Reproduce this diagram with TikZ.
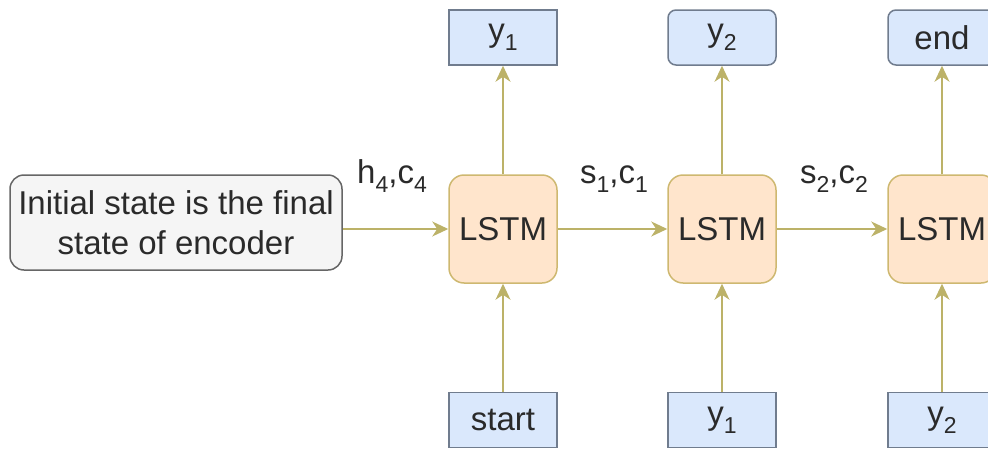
\documentclass[tikz,border=0pt]{standalone}
\usepackage{fontspec}
\setmainfont{Liberation Sans}
\usetikzlibrary{arrows.meta}
\definecolor{flowline}{RGB}{188,178,104}
\definecolor{cellfill}{RGB}{255,229,204}
\definecolor{celldraw}{RGB}{206,184,112}
\definecolor{tokfill}{RGB}{218,232,252}
\definecolor{tokdraw}{RGB}{112,124,142}
\definecolor{notefill}{RGB}{245,245,245}
\definecolor{notedraw}{RGB}{102,102,102}
\definecolor{ink}{RGB}{42,42,42}
% lowered, smaller index
\newcommand\idx[1]{\raisebox{-9pt}{\fontsize{23}{23}\selectfont #1}}
\tikzset{
  every node/.style={font=\fontsize{33}{40}\selectfont, text=ink},
  cell/.style={draw=celldraw, fill=cellfill, line width=1.5pt, rounded corners=15pt,
    minimum width=108pt, minimum height=108pt, inner sep=0pt},
  tok/.style={draw=tokdraw, fill=tokfill, line width=1.5pt,
    minimum width=108pt, minimum height=55pt, inner sep=0pt},
  tokr/.style={tok, rounded corners=8pt},
  note/.style={draw=notedraw, fill=notefill, line width=1.5pt, rounded corners=14pt,
    minimum width=332pt, minimum height=95pt, inner sep=0pt, align=center},
  flow/.style={draw=flowline, line width=1.5pt, -{Stealth[length=16pt,width=15pt,inset=5pt]}},
  statelabel/.style={inner sep=0pt, anchor=base}
}
\begin{document}
\begin{tikzpicture}[x=1pt,y=-1pt]
  \useasboundingbox (0,0) rectangle (988,450);
  % initial state box
  \node[note] (init) at (176,222.5) {Initial state is the final\\state of encoder};
  % decoder cells
  \node[cell] (l1) at (503,229) {LSTM};
  \node[cell] (l2) at (722,229) {LSTM};
  \node[cell] (l3) at (942,229) {LSTM};
  % outputs
  \node[tok]  (o1) at (503,37.5) {y\idx{1}};
  \node[tokr] (o2) at (722,37.5) {y\idx{2}};
  \node[tokr] (o3) at (942,37.5) {end};
  % inputs
  \node[tok] (i1) at (503,420) {start};
  \node[tok] (i2) at (722,420) {y\idx{1}};
  \node[tok] (i3) at (942,420) {y\idx{2}};
  % state passing
  \draw[flow] (init.east |- l1.west) -- (l1.west);
  \draw[flow] (l1) -- (l2);
  \draw[flow] (l2) -- (l3);
  \foreach \k in {1,2,3} {
    \draw[flow] (l\k) -- (o\k);
    \draw[flow] (i\k) -- (l\k);
  }
  % state labels
  \node[statelabel] (lab0) at (392,183) {h\idx{4},c\idx{4}};
  \node[statelabel] (lab1) at (614,183) {s\idx{1},c\idx{1}};
  \node[statelabel] (lab2) at (834,183) {s\idx{2},c\idx{2}};
\end{tikzpicture}
\end{document}
